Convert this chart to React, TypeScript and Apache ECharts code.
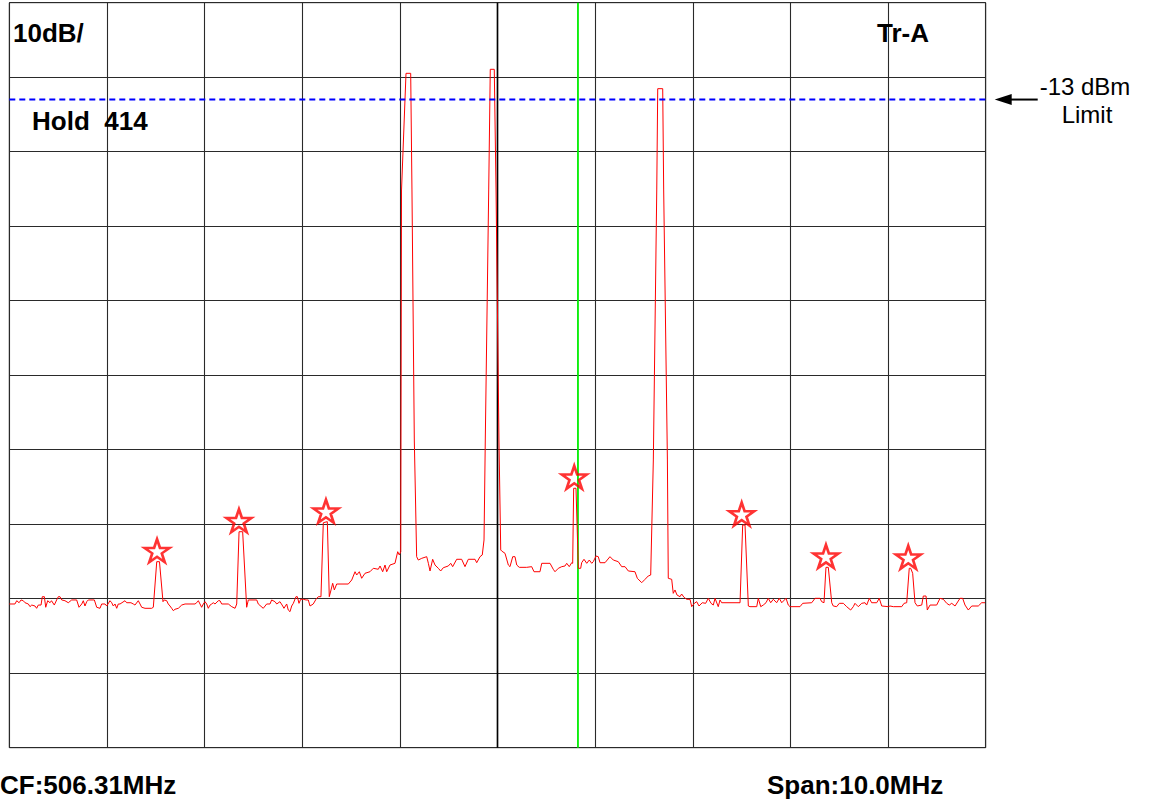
import React, { useEffect, useRef } from "react";
import * as echarts from "echarts";

// Spectrum analyser display: 10 dB/div, reference 0 dBm, CF 506.31 MHz, span 10 MHz.
// Frequency values are offsets from the centre frequency, in MHz.
const spanMinMHz = -5;
const spanMaxMHz = 5;
const refLevelDbm = 0;
const bottomLevelDbm = -100;
const dbPerDiv = 10;

const limitDbm = -13;
const cursorFreqMHz = 0.824;

const traceFreqMHz = [
  -5.0, -4.942, -4.924, -4.9, -4.88, -4.857, -4.839, -4.805, -4.788, -4.77, -4.737, -4.72, -4.703, -4.675,
  -4.662, -4.641, -4.627, -4.607, -4.583, -4.568, -4.539, -4.515, -4.498, -4.481, -4.463, -4.43, -4.396,
  -4.361, -4.31, -4.286, -4.258, -4.242, -4.225, -4.207, -4.191, -4.129, -4.105, -4.071, -4.054, -4.02,
  -4.002, -3.969, -3.951, -3.935, -3.917, -3.9, -3.884, -3.866, -3.815, -3.798, -3.754, -3.73, -3.713,
  -3.679, -3.661, -3.644, -3.61, -3.542, -3.525, -3.49, -3.462, -3.426, -3.413, -3.388, -3.372, -3.354,
  -3.337, -3.32, -3.303, -3.269, -3.234, -3.2, -3.098, -3.081, -3.064, -3.047, -3.03, -3.013, -2.996,
  -2.978, -2.962, -2.944, -2.927, -2.911, -2.893, -2.859, -2.842, -2.825, -2.757, -2.722, -2.688, -2.671,
  -2.647, -2.61, -2.569, -2.552, -2.466, -2.45, -2.399, -2.364, -2.33, -2.313, -2.279, -2.261, -2.228,
  -2.2, -2.187, -2.159, -2.143, -2.125, -2.108, -2.091, -2.064, -2.05, -2.033, -2.016, -1.989, -1.961,
  -1.938, -1.92, -1.887, -1.859, -1.835, -1.808, -1.784, -1.743, -1.723, -1.705, -1.688, -1.671, -1.647,
  -1.528, -1.493, -1.459, -1.442, -1.415, -1.391, -1.357, -1.306, -1.272, -1.221, -1.203, -1.176, -1.152,
  -1.135, -1.101, -1.05, -1.022, -1.006, -0.991, -0.983, -0.937, -0.889, -0.876, -0.852, -0.828, -0.811,
  -0.776, -0.725, -0.708, -0.691, -0.664, -0.64, -0.606, -0.582, -0.555, -0.504, -0.479, -0.459, -0.418,
  -0.367, -0.333, -0.299, -0.23, -0.213, -0.179, -0.156, -0.138, -0.125, -0.09, -0.074, -0.033, -0.015,
  0.015, 0.033, 0.043, 0.077, 0.111, 0.128, 0.156, 0.179, 0.197, 0.223, 0.299, 0.35, 0.374, 0.435, 0.453,
  0.538, 0.571, 0.589, 0.623, 0.658, 0.691, 0.709, 0.735, 0.76, 0.77, 0.78, 0.804, 0.828, 0.852, 0.862,
  0.886, 0.914, 0.94, 0.965, 0.981, 1.009, 1.032, 1.05, 1.101, 1.152, 1.186, 1.237, 1.272, 1.306, 1.34,
  1.408, 1.432, 1.477, 1.511, 1.544, 1.569, 1.596, 1.631, 1.641, 1.692, 1.702, 1.74, 1.749, 1.784, 1.8,
  1.818, 1.838, 1.869, 1.886, 1.91, 1.938, 1.972, 1.989, 2.016, 2.04, 2.064, 2.097, 2.132, 2.159, 2.187,
  2.21, 2.228, 2.261, 2.279, 2.296, 2.33, 2.484, 2.511, 2.535, 2.569, 2.586, 2.655, 2.671, 2.696, 2.722,
  2.75, 2.773, 2.798, 2.825, 2.859, 2.886, 2.911, 2.955, 2.978, 2.996, 3.098, 3.126, 3.218, 3.252, 3.303,
  3.32, 3.344, 3.364, 3.388, 3.423, 3.439, 3.474, 3.501, 3.542, 3.576, 3.617, 3.644, 3.661, 3.695, 3.73,
  3.764, 3.781, 3.808, 3.832, 3.884, 3.91, 3.935, 4.002, 4.02, 4.054, 4.14, 4.164, 4.191, 4.217, 4.232,
  4.252, 4.276, 4.3, 4.345, 4.361, 4.389, 4.402, 4.43, 4.498, 4.532, 4.566, 4.601, 4.627, 4.652, 4.686,
  4.737, 4.764, 4.788, 4.822, 4.857, 4.924, 4.959, 4.993,
];

const traceLevelDbm = [
  -80.71, -80.71, -80.27, -80.54, -80.17, -80.27, -80.54, -80.71, -81.07, -80.85, -80.98, -81.29, -80.85,
  -80.85, -79.73, -79.73, -81.15, -80.27, -80.54, -80.27, -80.85, -80.17, -79.73, -79.73, -80.17, -80.27,
  -80.54, -80.17, -80.17, -81.15, -80.71, -80.27, -80.98, -80.4, -80.17, -80.17, -81.15, -81.29, -80.71,
  -80.71, -80.98, -80.27, -80.54, -80.98, -80.71, -81.29, -80.71, -80.71, -80.27, -80.54, -80.54, -80.71,
  -80.85, -80.27, -80.71, -81.15, -81.29, -81.29, -81.15, -75.03, -75.03, -80.4, -80.17, -80.27, -80.71,
  -80.98, -81.29, -81.61, -81.42, -81.29, -80.85, -80.71, -80.71, -80.54, -80.27, -80.71, -81.15, -80.71,
  -80.4, -80.71, -81.29, -80.85, -80.71, -80.54, -80.71, -80.27, -80.27, -80.71, -80.71, -81.07, -81.29,
  -80.71, -71.01, -71.01, -81.15, -80.17, -80.17, -80.71, -81.29, -80.71, -80.71, -80.17, -80.4, -80.71,
  -80.4, -80.98, -81.29, -80.71, -81.52, -81.74, -80.98, -80.62, -79.73, -79.73, -80.62, -80.08, -80.08,
  -80.17, -80.17, -80.98, -80.71, -80.08, -79.73, -79.73, -69.8, -69.66, -79.73, -78.83, -77.93, -78.83,
  -78.03, -78.03, -77.49, -76.38, -76.82, -76.38, -77.26, -76.59, -76.38, -75.92, -76.05, -75.61, -76.38,
  -75.48, -76.38, -75.48, -75.25, -73.69, -74.13, -73.69, -25.14, -9.48, -9.48, -25.14, -58.7, -74.36,
  -74.81, -74.58, -74.36, -75.25, -76.28, -74.71, -75.48, -75.92, -76.28, -75.84, -75.61, -75.25, -75.7,
  -74.71, -74.71, -75.7, -74.71, -74.71, -75.17, -74.36, -74.13, -72.12, -58.7, -25.14, -8.94, -8.94,
  -25.14, -58.7, -73.46, -73.6, -73.91, -75.48, -75.7, -74.36, -74.36, -75.48, -75.79, -75.79, -75.7,
  -76.38, -76.38, -75.25, -75.25, -76.05, -76.38, -75.92, -75.7, -75.61, -75.25, -75.7, -75.17, -75.25,
  -65.18, -65.18, -75.92, -75.92, -75.17, -74.71, -75.25, -74.81, -75.25, -75.03, -74.27, -74.36, -75.17,
  -75.17, -74.36, -74.81, -75.03, -75.7, -75.7, -76.28, -76.38, -77.26, -77.85, -77.4, -76.95, -76.82,
  -61.38, -25.14, -11.54, -11.54, -25.14, -61.38, -77.26, -77.4, -79.28, -78.83, -79.5, -79.73, -79.37,
  -79.81, -80.08, -80.08, -81.07, -80.62, -80.4, -80.98, -80.54, -80.62, -79.95, -80.62, -80.85, -79.95,
  -81.07, -80.17, -80.54, -80.54, -80.54, -70.11, -70.11, -80.98, -81.07, -81.07, -79.95, -81.07, -80.85,
  -80.54, -79.95, -80.54, -80.08, -80.54, -79.95, -80.54, -79.95, -80.85, -81.07, -81.07, -80.62, -80.54,
  -79.95, -79.95, -80.4, -80.54, -75.79, -75.79, -80.54, -80.98, -81.07, -80.62, -80.62, -81.07, -81.52,
  -81.07, -80.62, -81.07, -80.62, -80.54, -80.85, -79.95, -80.54, -80.54, -79.95, -80.98, -81.07, -80.98,
  -81.07, -81.07, -80.62, -80.54, -75.92, -75.92, -76.59, -80.54, -80.98, -80.85, -79.64, -79.64, -81.52,
  -80.85, -80.85, -79.95, -80.08, -80.62, -80.85, -80.62, -80.98, -79.95, -79.95, -80.85, -81.52, -80.98,
  -80.98, -80.54, -80.54,
];

// Spurious peaks flagged with star markers
const markerFreqMHz = [-3.487, -2.648, -1.757, 0.786, 2.501, 3.364, 4.207];
const markerLevelDbm = [-75.03, -71.01, -69.73, -65.18, -70.11, -75.79, -75.92];

const STAR_PATH =
  "path://M50 0 L61.2 34.5 L97.6 34.5 L68.2 55.9 L79.4 90.5 L50 69.1 L20.6 90.5 L31.8 55.9 L2.4 34.5 L38.8 34.5 Z";

const FONT = '"Liberation Sans", Arial, Helvetica, sans-serif';

export default function App() {
  const ref = useRef<HTMLDivElement>(null);

  useEffect(() => {
    if (!ref.current) return;
    const chart = echarts.init(ref.current, undefined, { renderer: "svg" });

    const trace = traceFreqMHz.map((f, i) => [f, traceLevelDbm[i]]);
    const markers = markerFreqMHz.map((f, i) => [f, markerLevelDbm[i]]);

    chart.setOption({
      animation: false,
      backgroundColor: "#ffffff",
      grid: {
        left: 9.3,
        top: 2.7,
        right: 168.3,
        bottom: 54.3,
        show: true,
        borderColor: "#333",
        borderWidth: 1,
        backgroundColor: "transparent",
      },
      xAxis: {
        type: "value",
        min: spanMinMHz,
        max: spanMaxMHz,
        interval: 1,
        axisLine: { show: false },
        axisTick: { show: false },
        axisLabel: { show: false },
        splitLine: { show: true, lineStyle: { color: "#2a2a2a", width: 1.1 } },
      },
      yAxis: {
        type: "value",
        min: bottomLevelDbm,
        max: refLevelDbm,
        interval: dbPerDiv,
        axisLine: { show: false },
        axisTick: { show: false },
        axisLabel: { show: false },
        splitLine: { show: true, lineStyle: { color: "#2a2a2a", width: 1.1 } },
      },
      series: [
        {
          name: "centre",
          type: "line",
          data: [
            [0, bottomLevelDbm],
            [0, refLevelDbm],
          ],
          showSymbol: false,
          lineStyle: { color: "#000", width: 1.6 },
          z: 1,
          silent: true,
        },
        {
          name: "cursor",
          type: "line",
          data: [
            [cursorFreqMHz, bottomLevelDbm],
            [cursorFreqMHz, refLevelDbm],
          ],
          showSymbol: false,
          lineStyle: { color: "#00ee00", width: 1.8 },
          z: 2,
          silent: true,
        },
        {
          name: "Tr-A",
          type: "line",
          data: trace,
          showSymbol: false,
          lineStyle: { color: "#ff0000", width: 1 },
          z: 3,
        },
        {
          name: "limit",
          type: "line",
          data: [
            [spanMinMHz, limitDbm],
            [spanMaxMHz, limitDbm],
          ],
          showSymbol: false,
          lineStyle: { color: "#0000ff", width: 2, type: [6, 4] },
          z: 4,
        },
        {
          name: "markers",
          type: "scatter",
          data: markers,
          symbol: STAR_PATH,
          symbolSize: [25, 23],
          symbolKeepAspect: false,
          symbolOffset: [0, -11],
          itemStyle: { color: "rgba(255,255,255,0)", borderColor: "#ff0000", borderWidth: 2.6 },
          z: 5,
        },
      ],
    });

    const [xRight, yLimit] = chart.convertToPixel({ gridIndex: 0 }, [spanMaxMHz, limitDbm]) as number[];
    const tip = xRight + 9;

    const bold = { fontFamily: FONT, fontWeight: "bold", fontSize: 26, fill: "#000", verticalAlign: "middle" };
    const plain = { fontFamily: FONT, fontSize: 24, fill: "#000", verticalAlign: "middle", align: "center" };

    chart.setOption({
      graphic: [
        { type: "text", x: 13, y: 33, style: { ...bold, text: "10dB/" } },
        { type: "text", x: 877, y: 33, style: { ...bold, text: "Tr-A" } },
        { type: "text", x: 32, y: 121, style: { ...bold, text: "Hold  414" } },
        { type: "text", x: 0, y: 785, style: { ...bold, text: "CF:506.31MHz" } },
        { type: "text", x: 767, y: 785, style: { ...bold, text: "Span:10.0MHz" } },
        { type: "text", x: 1085, y: yLimit - 13, style: { ...plain, text: "-13 dBm" } },
        { type: "text", x: 1087, y: yLimit + 15, style: { ...plain, text: "Limit" } },
        {
          type: "line",
          shape: { x1: tip + 14, y1: yLimit, x2: tip + 43, y2: yLimit },
          style: { stroke: "#000", lineWidth: 2 },
        },
        {
          type: "polygon",
          shape: {
            points: [
              [tip, yLimit],
              [tip + 17, yLimit - 5.5],
              [tip + 17, yLimit + 5.5],
            ],
          },
          style: { fill: "#000" },
        },
      ],
    });

    return () => chart.dispose();
  }, []);

  return (
    <div
      ref={ref}
      style={{ position: "fixed", left: 0, top: 0, width: 1154, height: 802, background: "#fff" }}
    />
  );
}
